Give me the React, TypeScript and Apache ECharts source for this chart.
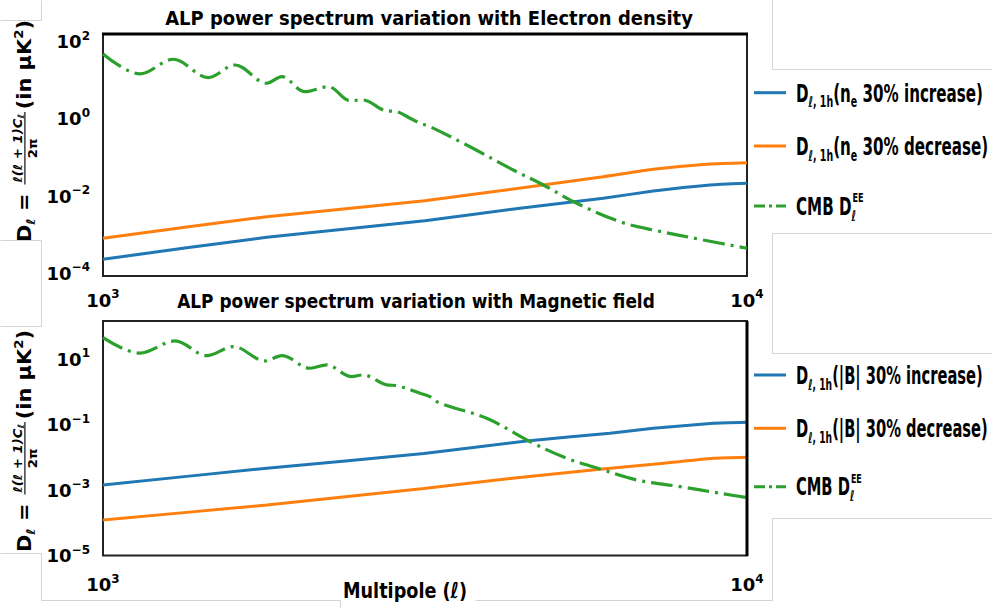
import React, { useEffect, useRef } from "react";
import * as echarts from "echarts";

// ---------------- data ----------------
// Top panel: variation with electron density
const topIncL = [1000, 1796, 3160, 4441, 5981, 7153, 8761, 10000];
const topIncV = [2.31e-4, 8.57e-4, 2.3e-3, 4.83e-3, 8.77e-3, 0.01355, 0.0194, 0.0215];
const topDecL = [1000, 1796, 3160, 4603, 5981, 7153, 8761, 10000];
const topDecV = [8.07e-4, 2.92e-3, 7.6e-3, 0.0175, 0.0318, 0.0494, 0.0679, 0.0733];
const topCmbL = [1000, 1141, 1286, 1457, 1603, 1796, 1895, 2059, 2238, 2418, 2533, 2741, 2858, 2998, 3107, 3219, 3714, 4336, 4829, 5440, 6350, 7153, 8554, 10000];
const topCmbV = [48, 14.6, 35, 11.7, 24.9, 8.36, 12.4, 5.07, 6.82, 2.96, 3.09, 1.63, 1.54, 1.04, 0.77, 0.628, 0.19, 0.0474, 0.0194, 6.5e-3, 2.17e-3, 1.32e-3, 7.3e-4, 4.45e-4];

// Bottom panel: variation with magnetic field
const botIncL = [1000, 1796, 3150, 4549, 6126, 7153, 8866, 10000];
const botIncV = [1.44e-3, 4.68e-3, 0.0133, 0.032, 0.0551, 0.0783, 0.1114, 0.1197];
const botDecL = [1000, 1796, 3150, 4549, 5910, 7153, 8866, 10000];
const botDecV = [1.22e-4, 3.52e-4, 1.12e-3, 2.59e-3, 4.36e-3, 6.19e-3, 9.46e-3, 0.01014];
const botCmbL = [1000, 1141, 1294, 1449, 1594, 1785, 1895, 2096, 2225, 2433, 2533, 2757, 2858, 3107, 3219, 3336, 3943, 4603, 5248, 5910, 6743, 7870, 9080, 10000];
const botCmbV = [46.4, 15.5, 36.8, 13.1, 24.7, 9.0, 13.1, 5.38, 6.79, 2.97, 3.36, 1.66, 1.58, 0.923, 0.726, 0.456, 0.158, 0.0305, 9.46e-3, 4.45e-3, 2.05e-3, 1.28e-3, 8.02e-4, 5.9e-4];

// axes
const xRange = [1000, 10000];
const topYRange = [8.5e-5, 158];
const botYRange = [1e-5, 150];
const topYTickExps = [-4, -2, 0, 2];
const botYTickExps = [-5, -3, -1, 1];
const xTickExps = [3, 4];

const titles = [
  "ALP power spectrum variation with Electron density",
  "ALP power spectrum variation with Magnetic field",
];
const xName = "Multipole (";

const C_BLUE = "#1f77b4";
const C_ORANGE = "#ff7f0e";
const C_GREEN = "#2ca02c";
const FF = '"DejaVu Sans", sans-serif';
const NB = "\u00a0";

const zip = (l: number[], v: number[]) => l.map((x, i) => [x, v[i]]);
const supExp = (e: number) => (e < 0 ? "\u2212" + -e : String(e));

export default function App() {
  const ref = useRef<HTMLDivElement>(null);

  useEffect(() => {
    const el = ref.current!;
    const chart = echarts.init(el, null, { renderer: "svg" });

    const cv = document.createElement("canvas").getContext("2d")!;
    const tw = (t: string, size: number, italic = false) => {
      cv.font = `${italic ? "italic " : ""}bold ${size}px "DejaVu Sans"`;
      return cv.measureText(t).width;
    };

    const tickFormatter = (exps: number[]) => (v: number) => {
      const lg = Math.log10(v);
      const e = Math.round(lg);
      if (Math.abs(lg - e) > 0.01 || exps.indexOf(e) < 0) return "";
      return `{b|10}{s|${supExp(e)}}`;
    };
    const tickRich = {
      b: { fontFamily: FF, fontWeight: "bold", fontSize: 18, color: "#000", lineHeight: 24, verticalAlign: "middle" },
      s: { fontFamily: FF, fontWeight: "bold", fontSize: 12, color: "#000", lineHeight: 12, verticalAlign: "top" },
    };

    const xAxis = (gi: number, margin: number) => ({
      type: "log",
      gridIndex: gi,
      min: xRange[0],
      max: xRange[1],
      splitNumber: 5,
      axisLine: { show: false },
      axisTick: { show: false },
      splitLine: { show: false },
      minorTick: { show: false },
      axisLabel: { margin, formatter: tickFormatter(xTickExps), rich: tickRich },
    });
    const yAxis = (gi: number, range: number[], exps: number[]) => ({
      type: "log",
      gridIndex: gi,
      min: range[0],
      max: range[1],
      splitNumber: 5,
      axisLine: { show: false },
      axisTick: { show: false },
      splitLine: { show: false },
      axisLabel: { margin: 13, formatter: tickFormatter(exps), rich: tickRich },
    });

    const line = (name: string, gi: number, data: number[][], color: string, dashed: boolean) => ({
      type: "line",
      name,
      xAxisIndex: gi,
      yAxisIndex: gi,
      data,
      symbol: "none",
      showSymbol: false,
      smooth: dashed ? 0.35 : 0.15,
      clip: true,
      z: dashed ? 4 : 3,
      lineStyle: { color, width: dashed ? 3.2 : 3, type: dashed ? [22, 6, 3, 6] : "solid", cap: "butt" },
      itemStyle: { color },
    });

    // ---------- legend (drawn with graphic texts, horizontally condensed like the reference) ----------
    type Tok = { t: string; k: "m" | "s" | "si" };
    const tokSize: Record<string, number> = { m: 24, s: 15, si: 15 };
    const legendRich = {
      m: { fontFamily: FF, fontWeight: "bold", fontSize: 24, lineHeight: 32, verticalAlign: "middle", fill: "#000" },
      s: { fontFamily: FF, fontWeight: "bold", fontSize: 15, lineHeight: 15, verticalAlign: "bottom", fill: "#000" },
      si: { fontFamily: FF, fontWeight: "bold", fontStyle: "italic", fontSize: 15, lineHeight: 15, verticalAlign: "bottom", fill: "#000" },
    };
    const tokW = (toks: Tok[]) => toks.reduce((a, k) => a + tw(k.t, tokSize[k.k], k.k === "si"), 0);
    const tokT = (toks: Tok[]) => toks.map((k) => `{${k.k}|${k.t}}`).join("");

    const dItem = (inner: string, sub: string | null, rest: string): Tok[] => {
      const toks: Tok[] = [
        { t: "D", k: "m" },
        { t: "ℓ", k: "si" },
        { t: "," + NB + "1h", k: "s" },
        { t: inner, k: "m" },
      ];
      if (sub) toks.push({ t: sub, k: "s" });
      if (rest) toks.push({ t: rest, k: "m" });
      return toks;
    };
    const topItems: { toks: Tok[]; color: string }[] = [
      { toks: dItem("(n", "e", NB + "30%" + NB + "increase)"), color: C_BLUE },
      { toks: dItem("(n", "e", NB + "30%" + NB + "decrease)"), color: C_ORANGE },
    ];
    const botItems: { toks: Tok[]; color: string }[] = [
      { toks: dItem("(|B|" + NB + "30%" + NB + "increase)", null, ""), color: C_BLUE },
      { toks: dItem("(|B|" + NB + "30%" + NB + "decrease)", null, ""), color: C_ORANGE },
    ];

    const legendGraphics = (items: { toks: Tok[]; color: string }[], ys: number[], targetW: number) => {
      const s = targetW / tokW(items[0].toks);
      const out: any[] = [];
      const lx1 = 754, lx2 = 786, tx = 796;
      items.forEach((it, i) => {
        out.push({ type: "line", shape: { x1: lx1, y1: ys[i], x2: lx2, y2: ys[i] }, style: { stroke: it.color, lineWidth: 3 } });
        out.push({
          type: "text", x: tx, y: ys[i] + 0.7, scaleX: s,
          style: { text: tokT(it.toks), rich: legendRich, align: "left", verticalAlign: "middle", fill: "#000" },
        });
      });
      // CMB entry
      const y3 = ys[2];
      out.push({ type: "line", shape: { x1: lx1, y1: y3, x2: lx2, y2: y3 }, style: { stroke: C_GREEN, lineWidth: 3, lineDash: [11, 4, 3, 4] } });
      const cmbToks: Tok[] = [{ t: "CMB" + NB + "D", k: "m" }, { t: "ℓ", k: "si" }];
      out.push({
        type: "text", x: tx, y: y3 + 0.7, scaleX: s,
        style: { text: tokT(cmbToks), rich: legendRich, align: "left", verticalAlign: "middle", fill: "#000" },
      });
      const base = y3 + 0.7 + 0.346 * 24;
      out.push({
        type: "text", x: tx + s * tw("CMB" + NB + "D", 24) + 1, y: base - 12.5 - 0.346 * 13, scaleX: s,
        style: { text: "EE", font: `bold 13px ${FF}`, align: "left", verticalAlign: "middle", fill: "#000" },
      });
      return out;
    };

    // ---------- rotated y-axis label ----------
    const yLabel = (ox: number, oy: number, totalLen: number) => {
      const F = 22, fs = 14;
      const T = (t: string, x: number, base: number, size: number, italic = false) => ({
        type: "text", x, y: base - 0.346 * size,
        style: { text: t, font: `${italic ? "italic " : ""}bold ${size}px ${FF}`, align: "left", verticalAlign: "middle", fill: "#000" },
      });
      const kids: any[] = [];
      let cx = 0;
      kids.push(T("D", cx, 0, F)); cx += tw("D", F);
      kids.push(T("ℓ", cx, 5, fs, true)); cx += tw("ℓ", fs, true);
      const eq = NB + "=" + NB;
      kids.push(T(eq, cx, 0, F)); cx += tw(eq, F) + 2;
      const num1 = "ℓ(ℓ" + NB + "+" + NB + "1)C";
      const wn = tw(num1, fs, true) + tw("ℓ", 10, true);
      const bar = -7;
      kids.push(T(num1, cx + 2, bar - 4, fs, true));
      kids.push(T("ℓ", cx + 2 + tw(num1, fs, true), bar - 1, 10, true));
      kids.push({ type: "line", shape: { x1: cx, y1: bar, x2: cx + wn + 4, y2: bar }, style: { stroke: "#000", lineWidth: 1.3 } });
      const den = "2π";
      kids.push(T(den, cx + 2 + (wn - tw(den, fs)) / 2, bar + 4 + 0.73 * fs, fs));
      cx += wn + 7;
      const p1 = "(in" + NB + "μK";
      kids.push(T(p1, cx, 0, F)); cx += tw(p1, F);
      kids.push(T("2", cx, -9, fs)); cx += tw("2", fs);
      kids.push(T(")", cx, 0, F)); cx += tw(")", F);
      return {
        type: "group", x: ox, y: oy, rotation: Math.PI / 2,
        scaleX: totalLen / cx, scaleY: 0.87, children: kids,
      };
    };

    const titleText = (t: string, cx: number, baseline: number, width: number) => ({
      type: "text", x: cx, y: baseline - 0.346 * 20, scaleX: width / tw(t, 20),
      style: { text: t, font: `bold 20px ${FF}`, align: "center", verticalAlign: "middle", fill: "#000" },
    });

    const xNameToks = { a: xName, b: "ℓ", c: ")" };
    const xNameW = tw(xNameToks.a, 22) + tw(xNameToks.b, 22, true) + tw(xNameToks.c, 22);
    const xNameEl = {
      type: "text", x: 343, y: 598 - 0.346 * 22, scaleX: 124 / xNameW,
      style: {
        text: `{a|${xNameToks.a}}{b|${xNameToks.b}}{a|${xNameToks.c}}`,
        rich: {
          a: { fontFamily: FF, fontWeight: "bold", fontSize: 22, fill: "#000" },
          b: { fontFamily: FF, fontWeight: "bold", fontStyle: "italic", fontSize: 22, fill: "#000" },
        },
        align: "left", verticalAlign: "middle",
      },
    };

    const artifactSegs = [
      [41, 0, 41, 20], [0, 20, 41, 20],
      [0, 240, 41, 240], [41, 240, 41, 326], [0, 326, 41, 326],
      [0, 553, 41, 553], [41, 553, 41, 600], [41, 600, 340, 600], [340, 600, 340, 608],
      [475, 600, 772, 600], [772, 518, 772, 600], [772, 518, 992, 518],
      [772, 0, 772, 69], [772, 69, 992, 69],
      [772, 233, 992, 233], [772, 233, 772, 353], [772, 353, 992, 353],
    ];
    const artifacts = artifactSegs.map((s) => ({
      type: "line", silent: true, z: -1,
      shape: { x1: s[0] + 0.5, y1: s[1] + 0.5, x2: s[2] + 0.5, y2: s[3] + 0.5 },
      style: { stroke: "#d4d4d4", lineWidth: 1 },
    }));

    // heavier frame edges seen in the reference
    const frameAccents = [
      { type: "line", z: 10, shape: { x1: 102, y1: 34, x2: 748, y2: 34 }, style: { stroke: "#000", lineWidth: 3 } },
      { type: "line", z: 10, shape: { x1: 747, y1: 321, x2: 747, y2: 556 }, style: { stroke: "#000", lineWidth: 3 } },
    ];

    const option: any = {
      animation: false,
      backgroundColor: "#fff",
      grid: [
        { left: 103, top: 34, width: 644, height: 242, show: true, borderColor: "#222", borderWidth: 2, backgroundColor: "transparent" },
        { left: 103, top: 321, width: 644, height: 234.5, show: true, borderColor: "#222", borderWidth: 2, backgroundColor: "transparent" },
      ],
      xAxis: [xAxis(0, 12), xAxis(1, 17)],
      yAxis: [yAxis(0, topYRange, topYTickExps), yAxis(1, botYRange, botYTickExps)],
      series: [
        line("Dℓ,1h(ne 30% increase)", 0, zip(topIncL, topIncV), C_BLUE, false),
        line("Dℓ,1h(ne 30% decrease)", 0, zip(topDecL, topDecV), C_ORANGE, false),
        line("CMB DℓEE", 0, zip(topCmbL, topCmbV), C_GREEN, true),
        line("Dℓ,1h(|B| 30% increase)", 1, zip(botIncL, botIncV), C_BLUE, false),
        line("Dℓ,1h(|B| 30% decrease)", 1, zip(botDecL, botDecV), C_ORANGE, false),
        line("CMB DℓEE ", 1, zip(botCmbL, botCmbV), C_GREEN, true),
      ],
      graphic: [
        ...artifacts,
        ...frameAccents,
        titleText(titles[0], 429, 25, 528),
        titleText(titles[1], 416, 308, 478),
        xNameEl,
        yLabel(31, 242, 222),
        yLabel(31, 552, 222),
        ...legendGraphics(topItems, [92.7, 146, 206], 187),
        ...legendGraphics(botItems, [375, 428.3, 486.7], 187),
      ],
    };

    chart.setOption(option);
    return () => chart.dispose();
  }, []);

  return (
    <div
      ref={ref}
      style={{ position: "absolute", left: 0, top: 0, width: 992, height: 608, background: "#fff" }}
    />
  );
}
